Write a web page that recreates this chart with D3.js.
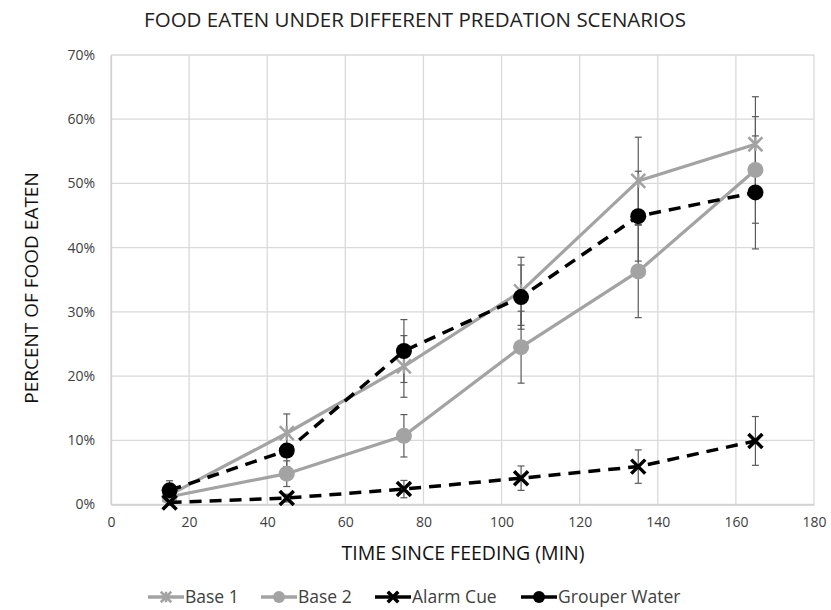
<!DOCTYPE html>
<html><head><meta charset="utf-8">
<script src="https://cdn.jsdelivr.net/npm/d3@7"></script>
<style>body{margin:0;background:#fff;} text{font-family:"Open Sans","Noto Sans",sans-serif;}</style>
</head><body>
<svg id="c" width="831" height="610"></svg>
<script>
const times = [15, 45, 75, 105, 135, 165];
const base1 = [1.5, 11.1, 21.5, 33.2, 50.4, 56.1];
const base1Err = [1.0, 3.0, 4.8, 5.3, 6.8, 7.4];
const base2 = [1.2, 4.8, 10.7, 24.5, 36.3, 52.1];
const base2Err = [0.8, 2.0, 3.3, 5.6, 7.2, 8.3];
const alarm = [0.3, 1.0, 2.4, 4.1, 5.9, 9.9];
const alarmErr = [0.4, 0.6, 1.35, 1.9, 2.6, 3.8];
const grouper = [2.2, 8.4, 23.9, 32.3, 44.9, 48.6];
const grouperErr = [1.5, 2.5, 4.9, 5.0, 7.0, 8.8];
const seriesNames = ["Base 1", "Base 2", "Alarm Cue", "Grouper Water"];
const xTicks = [0,20,40,60,80,100,120,140,160,180];
const yTicks = [0,10,20,30,40,50,60,70];

const series = [
  {name: seriesNames[0], v: base1, e: base1Err, color: "#a3a3a3", dash: null, marker: "star"},
  {name: seriesNames[1], v: base2, e: base2Err, color: "#a3a3a3", dash: null, marker: "circle"},
  {name: seriesNames[2], v: alarm, e: alarmErr, color: "#000", dash: "12,8", marker: "x"},
  {name: seriesNames[3], v: grouper, e: grouperErr, color: "#000", dash: "12,8", marker: "circle"}
];

const svg = d3.select("#c");
const L = 111, R = 814, T = 55, B = 504.5;
const x = d3.scaleLinear().domain([0,180]).range([L,R]);
const y = d3.scaleLinear().domain([0,70]).range([B,T]);

// gridlines
svg.append("g").selectAll("line").data(yTicks).join("line")
  .attr("x1",L).attr("x2",R).attr("y1",d=>y(d)).attr("y2",d=>y(d))
  .attr("stroke","#d9d9d9").attr("stroke-width",1.3);
svg.append("g").selectAll("line").data(xTicks).join("line")
  .attr("y1",T).attr("y2",B).attr("x1",d=>x(d)).attr("x2",d=>x(d))
  .attr("stroke","#d9d9d9").attr("stroke-width",1.3);

// axes
const xa = svg.append("g").attr("transform",`translate(0,${B})`)
  .call(d3.axisBottom(x).tickValues(xTicks).tickSize(0).tickPadding(13));
const ya = svg.append("g").attr("transform",`translate(${L},0)`)
  .call(d3.axisLeft(y).tickValues(yTicks).tickFormat(d=>d+"%").tickSize(0).tickPadding(16));
[xa,ya].forEach(a=>{
  a.select(".domain").attr("stroke","#d0d0d0").attr("stroke-width",1.3);
  a.selectAll("text").attr("font-size",14).attr("fill","#404040");
});

// error bars
series.forEach(s=>{
  const g = svg.append("g");
  times.forEach((t,i)=>{
    const cx = x(t), y1 = y(s.v[i]+s.e[i]), y2 = y(s.v[i]-s.e[i]);
    g.append("line").attr("x1",cx).attr("x2",cx).attr("y1",y1).attr("y2",y2).attr("stroke","#5a5a5a").attr("stroke-width",1.2);
    [y1,y2].forEach(yy=>g.append("line").attr("x1",cx-3.5).attr("x2",cx+3.5).attr("y1",yy).attr("y2",yy).attr("stroke","#5a5a5a").attr("stroke-width",1.2));
  });
});

const line = d3.line().x((d,i)=>x(times[i])).y(d=>y(d));
function drawMarker(g, type, cx, cy, color, scale){
  if(type==="circle"){
    g.append("circle").attr("cx",cx).attr("cy",cy).attr("r",8*scale).attr("fill",color);
  } else if(type==="x"){
    const r = 7*scale;
    g.append("path").attr("d",`M${cx-r},${cy-r}L${cx+r},${cy+r}M${cx-r},${cy+r}L${cx+r},${cy-r}`)
      .attr("stroke",color).attr("stroke-width",3.5).attr("fill","none");
  } else {
    const r = 7*scale;
    g.append("path").attr("d",`M${cx-r},${cy-r}L${cx+r},${cy+r}M${cx-r},${cy+r}L${cx+r},${cy-r}M${cx},${cy-r}L${cx},${cy+r}`)
      .attr("stroke",color).attr("stroke-width",2.5).attr("fill","none");
  }
}
series.forEach(s=>{
  svg.append("path").datum(s.v).attr("d",line).attr("fill","none")
    .attr("stroke",s.color).attr("stroke-width",s.dash?3.5:3.2)
    .attr("stroke-dasharray",s.dash);
  const g = svg.append("g");
  s.v.forEach((v,i)=>drawMarker(g,s.marker,x(times[i]),y(v),s.color,1));
});

// titles
svg.append("text").attr("x",415).attr("y",27).attr("text-anchor","middle")
  .attr("font-size",20.5).attr("fill","#222").text("FOOD EATEN UNDER DIFFERENT PREDATION SCENARIOS");
svg.append("text").attr("x",463).attr("y",560).attr("text-anchor","middle")
  .attr("font-size",19.5).attr("fill","#111").text("TIME SINCE FEEDING (MIN)");
svg.append("text").attr("transform","translate(38,288) rotate(-90)").attr("text-anchor","middle")
  .attr("font-size",19).attr("fill","#111").text("PERCENT OF FOOD EATEN");

// legend
const legX = [148, 261, 375, 521];
series.forEach((s,i)=>{
  const g = svg.append("g");
  const lx = legX[i], ly = 597;
  g.append("line").attr("x1",lx).attr("x2",lx+36).attr("y1",ly).attr("y2",ly)
    .attr("stroke",s.color).attr("stroke-width",3.5);
  drawMarker(g,s.marker,lx+18,ly,s.color,0.75);
  g.append("text").attr("x",lx+37).attr("y",ly+6).attr("font-size",17.5).attr("fill","#404040").text(s.name);
});
</script>
</body></html>
